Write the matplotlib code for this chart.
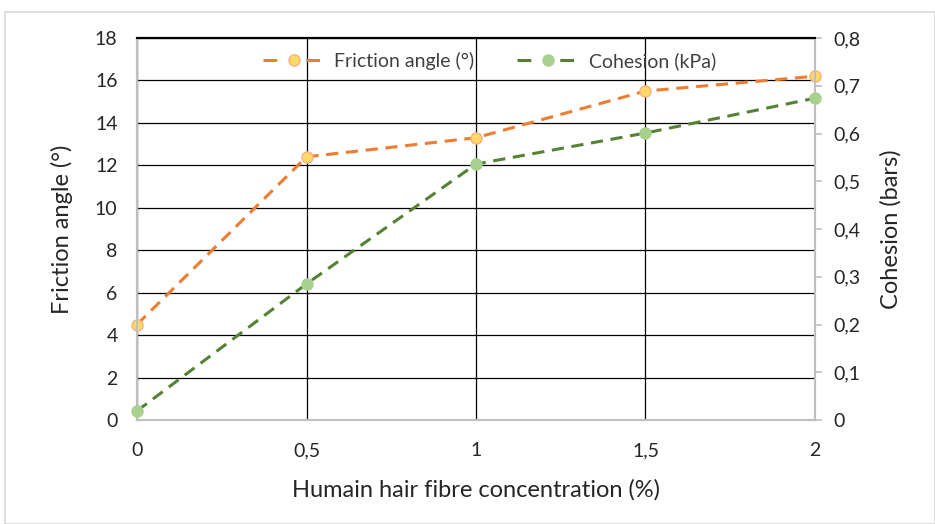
import matplotlib
matplotlib.use("Agg")
import matplotlib.pyplot as plt
from matplotlib.ticker import FuncFormatter
from matplotlib.patches import Rectangle
from matplotlib.lines import Line2D

plt.rcParams['font.family'] = ['Lato', 'DejaVu Sans']

conc = [0, 0.5, 1, 1.5, 2]
friction = [4.5, 12.4, 13.3, 15.5, 16.2]
cohesion = [0.019, 0.285, 0.536, 0.601, 0.674]
x_ticks = [0, 0.5, 1, 1.5, 2]
left_ticks = list(range(0, 19, 2))
right_ticks = [0, 0.1, 0.2, 0.3, 0.4, 0.5, 0.6, 0.7, 0.8]

W, H = 935, 524
fig = plt.figure(figsize=(W/100, H/100), dpi=100)
fig.patches.append(Rectangle((5/W, 0), 1 - 5/W, 1 - 12/H, transform=fig.transFigure,
                             fill=False, edgecolor='#d9d9d9', linewidth=1.2))

ax = fig.add_axes([137/W, 1 - 420/H, (815-137)/W, (420-38)/H])
ax2 = ax.twinx()

def comma(v, pos):
    s = ('%g' % round(v, 2))
    return s.replace('.', ',')

ax.set_xlim(0, 2)
ax.set_ylim(0, 18)
ax2.set_ylim(0, 0.8)
ax.set_xticks(x_ticks)
ax.set_yticks(left_ticks)
ax2.set_yticks(right_ticks)
ax.xaxis.set_major_formatter(FuncFormatter(comma))
ax2.yaxis.set_major_formatter(FuncFormatter(comma))

ax.grid(True, color='black', linewidth=0.9)
ax.set_axisbelow(True)
for a in (ax, ax2):
    for s in a.spines.values():
        s.set_color('#bfbfbf')
        s.set_linewidth(1.5)
    a.tick_params(labelsize=14, colors='#404040', labelcolor='#262626')
ax.spines['top'].set_color('black')
ax2.spines['top'].set_color('black')
ax.tick_params(axis='y', length=0, pad=14)
ax.tick_params(axis='x', length=0, pad=16)
ax2.tick_params(axis='y', length=5, color='#bfbfbf', width=1.2, pad=8)

orange, yellow, orange_edge = '#ED7D31', '#FFD966', '#F4B183'
green, lgreen = '#548235', '#A9D18E'

ax.plot(conc, friction, linestyle=(0, (4, 2.5)), color=orange, linewidth=2.2,
        marker='o', markersize=8, markerfacecolor=yellow, markeredgecolor=orange_edge,
        markeredgewidth=1, clip_on=False, zorder=5)
ax2.plot(conc, cohesion, linestyle=(0, (4, 2.5)), color=green, linewidth=2.2,
         marker='o', markersize=8, markerfacecolor=lgreen, markeredgecolor=lgreen,
         markeredgewidth=1, clip_on=False, zorder=5)

h1 = Line2D([], [], linestyle=(0, (4.5, 9.5)), color=orange, linewidth=2.2, marker='o',
            markersize=8, markerfacecolor=yellow, markeredgecolor=orange_edge)
h2 = Line2D([], [], linestyle=(0, (4.5, 9.5)), color=green, linewidth=2.2, marker='o',
            markersize=8, markerfacecolor=lgreen, markeredgecolor=lgreen)

ax.set_xlabel('Humain hair fibre concentration (%)', fontsize=17, color='#262626', labelpad=14)
ax.set_ylabel('Friction angle (°)', fontsize=17, color='#262626', labelpad=16)
ax2.set_ylabel('Cohesion (bars)', fontsize=17, color='#262626', labelpad=14)

leg = ax2.legend(handles=[h1, h2], labels=['Friction angle (°)', 'Cohesion (kPa)'],
                 loc='upper center', bbox_to_anchor=(0.52, 1.01), ncol=2,
                 frameon=False, fontsize=14, handlelength=3.2, columnspacing=2.2,
                 handletextpad=0.5)
for t in leg.get_texts():
    t.set_color('#404040')

fig.savefig('out.png', dpi=100)
